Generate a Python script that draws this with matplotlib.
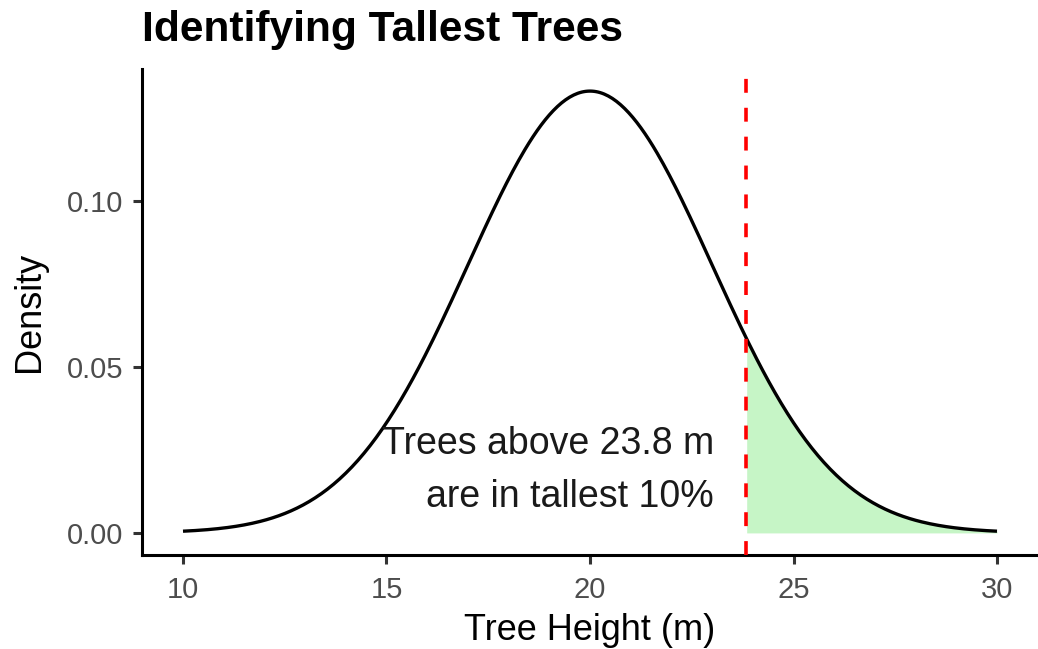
import numpy as np
import matplotlib
matplotlib.use("Agg")
import matplotlib.pyplot as plt

# ---- data ----
mean_height = 20.0        # m
sd_height = 3.0           # m
x_min, x_max = 10.0, 30.0
cutoff = 23.84            # 90th percentile (tallest 10%)
x_ticks = [10, 15, 20, 25, 30]
y_ticks = [0.00, 0.05, 0.10]
y_tick_labels = ["0.00", "0.05", "0.10"]
title = "Identifying Tallest Trees"
x_label = "Tree Height (m)"
y_label = "Density"
note = "Trees above 23.8 m\nare in tallest 10%"
note_x, note_y = 23.05, 0.0187

plt.rcParams['font.family'] = ['Liberation Sans', 'DejaVu Sans']
plt.rcParams['lines.scale_dashes'] = False

W, H, DPI = 1038, 649, 100
fig = plt.figure(figsize=(W / DPI, H / DPI), dpi=DPI)

# panel in pixels
left_px, right_px, top_px, bottom_px = 142.3, 1037.7, 69, 555
ax = fig.add_axes([left_px / W, 1 - bottom_px / H,
                   (right_px - left_px) / W, (bottom_px - top_px) / H])

xs = np.linspace(x_min, x_max, 401)
dens = np.exp(-0.5 * ((xs - mean_height) / sd_height) ** 2) / (sd_height * np.sqrt(2 * np.pi))

mask = xs >= cutoff
ax.fill_between(xs[mask], 0, dens[mask], color="#c6f5c6", linewidth=0, zorder=1)
ax.plot(xs, dens, color="black", linewidth=2.4, zorder=3, solid_capstyle="butt")
ax.axvline(cutoff, color="#ff0000", linewidth=2.6, dashes=(10, 10.8), zorder=4)

ax.text(note_x, note_y, note, ha="right", va="center", fontsize=27,
        color="#1a1a1a", linespacing=1.6, zorder=5)

xr = x_max - x_min
ax.set_xlim(x_min - 0.05 * xr, x_max + 0.05 * xr)
ymax = dens.max()
ax.set_ylim(-0.05 * ymax, ymax * 1.05)

ax.set_xticks(x_ticks)
ax.set_xticklabels([str(t) for t in x_ticks])
ax.set_yticks(y_ticks)
ax.set_yticklabels(y_tick_labels)

for s in ["top", "right"]:
    ax.spines[s].set_visible(False)
for s in ["left", "bottom"]:
    ax.spines[s].set_linewidth(2.2)
    ax.spines[s].set_color("black")

ax.tick_params(axis="both", length=6.3, width=2.2, color="#333333",
               labelsize=21, labelcolor="#4d4d4d")
ax.tick_params(axis="x", pad=9)
ax.tick_params(axis="y", pad=7.5)

ax.set_xlabel(x_label, fontsize=26, color="black", labelpad=6)
ax.set_ylabel(y_label, fontsize=26, color="black", labelpad=14)

fig.text(left_px / W, 1 - 41 / H, title, fontsize=30.6, fontweight="bold",
         ha="left", va="baseline", color="black")

fig.savefig("out.png", dpi=DPI, facecolor="white")
